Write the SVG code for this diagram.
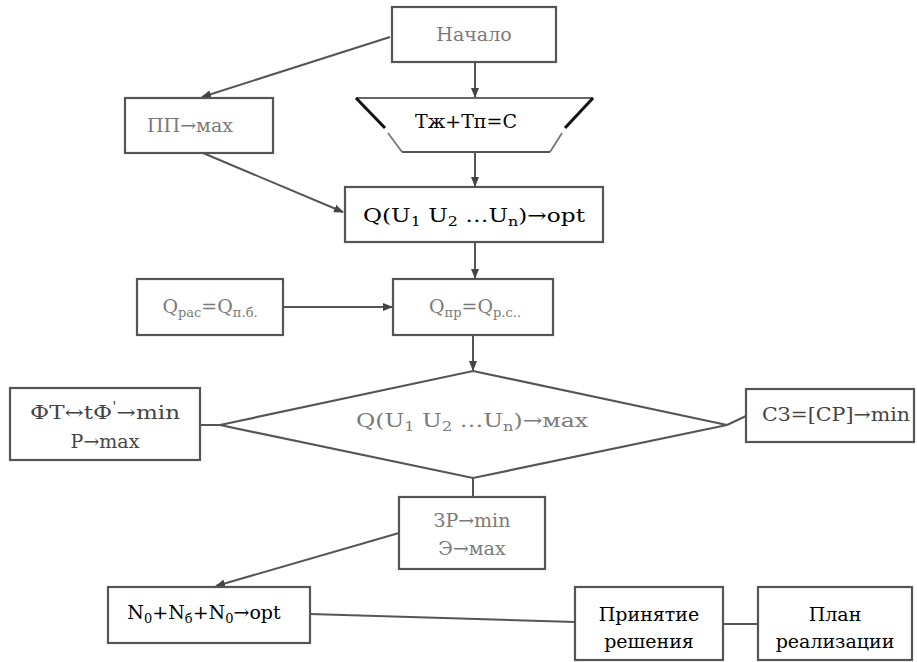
<svg xmlns="http://www.w3.org/2000/svg" width="917" height="662" viewBox="0 0 917 662">
<defs>
<marker id="ah" markerWidth="10" markerHeight="8" refX="9" refY="4" orient="auto" markerUnits="userSpaceOnUse">
<path d="M0,0 L10,4 L0,8 z" fill="#444"/>
</marker>
<style>
.box{fill:#fff;stroke:#555;stroke-width:2.2}
.ln{fill:none;stroke:#555;stroke-width:2}
.t{font-family:'DejaVu Serif',serif;font-size:19px;text-anchor:middle}
.g{fill:#7a7a7a}
.d{fill:#444}
.k{fill:#000}
.s{font-size:13px}
</style>
</defs>
<rect width="917" height="662" fill="#fff"/>
<g id="connectors">
<line class="ln" x1="390" y1="37" x2="202" y2="97" marker-end="url(#ah)"/>
<line class="ln" x1="475" y1="62" x2="475" y2="97" marker-end="url(#ah)"/>
<line class="ln" x1="203" y1="153" x2="343" y2="212" marker-end="url(#ah)"/>
<line class="ln" x1="475" y1="152" x2="475" y2="186" marker-end="url(#ah)"/>
<line class="ln" x1="475" y1="242" x2="475" y2="278" stroke-width="2.5" marker-end="url(#ah)"/>
<line class="ln" x1="283" y1="307" x2="392" y2="307" stroke-width="2.5" marker-end="url(#ah)"/>
<line class="ln" x1="473" y1="335" x2="473" y2="370" marker-end="url(#ah)"/>
<line class="ln" x1="200" y1="425" x2="220" y2="425"/>
<line class="ln" x1="727" y1="425" x2="746" y2="416"/>
<line class="ln" x1="473" y1="478" x2="473" y2="497"/>
<line class="ln" x1="399" y1="533" x2="216" y2="586" marker-end="url(#ah)"/>
<line class="ln" x1="310" y1="614" x2="575" y2="622"/>
<line class="ln" x1="723" y1="624" x2="758" y2="624"/>
</g>
<g id="nachalo">
<rect class="box" x="392" y="7" width="164" height="55"/>
<text class="t g" x="474" y="41">Начало</text>
</g>
<g id="pp">
<rect class="box" x="125" y="98" width="148" height="55"/>
<text class="t g" x="190" y="132" font-size="20">ПП→мах</text>
</g>
<g id="trap">
<line x1="356" y1="98" x2="593" y2="98" stroke="#666" stroke-width="2"/>
<line x1="356" y1="98" x2="385" y2="128" stroke="#111" stroke-width="3"/>
<line x1="388" y1="133" x2="402" y2="152" stroke="#777" stroke-width="1.8"/>
<line x1="593" y1="98" x2="565" y2="128" stroke="#111" stroke-width="3"/>
<line x1="562" y1="133" x2="550" y2="152" stroke="#777" stroke-width="1.8"/>
<line x1="402" y1="152" x2="550" y2="152" stroke="#555" stroke-width="2"/>
<text class="t k" x="466" y="128" font-size="21">Тж+Тп=С</text>
</g>
<g id="qopt">
<rect class="box" x="345" y="187" width="258" height="55"/>
<text class="t k" x="474" y="222" font-size="22" textLength="222" lengthAdjust="spacingAndGlyphs">Q(U<tspan class="s" dy="4">1</tspan><tspan dy="-4"> U</tspan><tspan class="s" dy="4">2</tspan><tspan dy="-4"> …U</tspan><tspan class="s" dy="4">n</tspan><tspan dy="-4">)→opt</tspan></text>
</g>
<g id="qras">
<rect class="box" x="137" y="279" width="146" height="56"/>
<text class="t g" x="210" y="313">Q<tspan class="s" dy="4">рас</tspan><tspan dy="-4">=Q</tspan><tspan class="s" dy="4">п.б.</tspan></text>
</g>
<g id="qpr">
<rect class="box" x="393" y="279" width="160" height="56"/>
<text class="t g" x="475" y="313">Q<tspan class="s" dy="4">пр</tspan><tspan dy="-4">=Q</tspan><tspan class="s" dy="4">р.с..</tspan></text>
</g>
<g id="diamond">
<polygon points="473,371 727,425 473,478 220,425" fill="#fff" stroke="#555" stroke-width="2.2"/>
<text class="t g" x="472" y="427" font-size="21" textLength="232" lengthAdjust="spacingAndGlyphs">Q(U<tspan class="s" dy="4">1</tspan><tspan dy="-4"> U</tspan><tspan class="s" dy="4">2</tspan><tspan dy="-4"> …U</tspan><tspan class="s" dy="4">n</tspan><tspan dy="-4">)→мах</tspan></text>
</g>
<g id="ft">
<rect class="box" x="10" y="388" width="190" height="72"/>
<text class="t d" x="105" y="419" font-size="21" textLength="150" lengthAdjust="spacingAndGlyphs">ФТ↔tФ<tspan class="s" dy="-8">'</tspan><tspan dy="8">→min</tspan></text>
<text class="t d" x="105" y="448" font-size="21">Р→max</text>
</g>
<g id="sz">
<rect class="box" x="746" y="389" width="168" height="53"/>
<text class="t d" x="836" y="421" font-size="20" textLength="148" lengthAdjust="spacingAndGlyphs">СЗ=[СР]→min</text>
</g>
<g id="zr">
<rect class="box" x="399" y="497" width="146" height="72"/>
<text class="t g" x="472" y="527" font-size="21">ЗР→min</text>
<text class="t g" x="472" y="555" font-size="21">Э→мах</text>
</g>
<g id="n">
<rect class="box" x="108" y="587" width="202" height="56"/>
<text class="t k" x="204" y="619" font-size="20.5">N<tspan class="s" dy="4">0</tspan><tspan dy="-4">+N</tspan><tspan class="s" dy="4">б</tspan><tspan dy="-4">+N</tspan><tspan class="s" dy="4">0</tspan><tspan dy="-4">→opt</tspan></text>
</g>
<g id="prin">
<rect class="box" x="575" y="587" width="148" height="73"/>
<text class="t k" x="649" y="621" font-size="20">Принятие</text>
<text class="t k" x="649" y="648" font-size="20">решения</text>
</g>
<g id="plan">
<rect class="box" x="758" y="587" width="154" height="73"/>
<text class="t k" x="835" y="621" font-size="20">План</text>
<text class="t k" x="835" y="648" font-size="20">реализации</text>
</g>
</svg>
